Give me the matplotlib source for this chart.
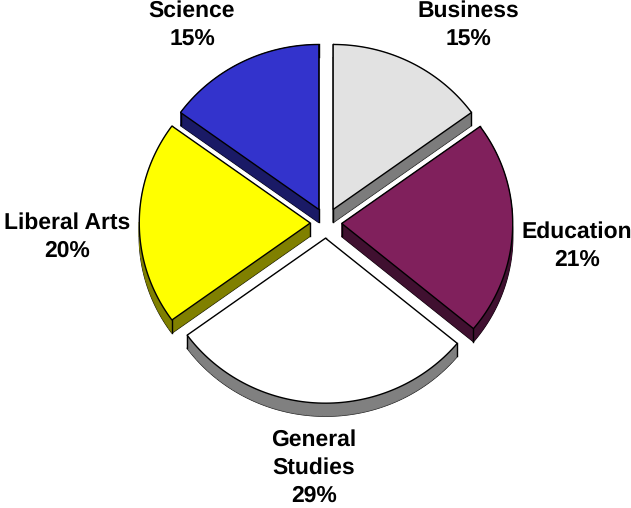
#!/usr/bin/env python3
"""Exploded pseudo-3D pie of enrollment share by college."""
import numpy as np
import matplotlib
matplotlib.use("Agg")
import matplotlib.pyplot as plt
from matplotlib.patches import Polygon

plt.rcParams["font.family"] = ["Liberation Sans", "DejaVu Sans"]
plt.rcParams["text.hinting"] = "no_hinting"

# clockwise from 12 o'clock
LABELS = ["Business", "Education", "General\nStudies", "Liberal Arts", "Science"]
VALUES = [15, 21, 29, 20, 15]
TOPS = ["#e2e2e2", "#80205c", "#ffffff", "#ffff00", "#3333cc"]
WALLS = ["#7c7c7c", "#401030", "#808080", "#808000", "#1a1a66"]
# label centres in pixels
LABEL_XY = [(468, 25), (577, 246), (314, 468), (67, 237), (192, 25)]

W, H = 631, 508
CX, CY = 326, 223      # pie centre
RX, RY = 171, 165      # tilted radii
EXPLODE = 0.092        # fraction of radius
DEPTH = 13

fig = plt.figure(figsize=(W / 100, H / 100), dpi=100)
ax = fig.add_axes([0, 0, 1, 1])
ax.set_xlim(0, W)
ax.set_ylim(H, 0)
ax.axis("off")

edges = np.cumsum([0] + VALUES) / sum(VALUES) * 2 * np.pi


def slice_outline(a0, a1):
    mid = (a0 + a1) / 2
    ox = CX + EXPLODE * RX * np.sin(mid)
    oy = CY - EXPLODE * RY * np.cos(mid)
    t = np.linspace(a0, a1, 80)
    xs = np.r_[ox, ox + RX * np.sin(t)]
    ys = np.r_[oy, oy - RY * np.cos(t)]
    return np.column_stack([xs, ys])


for i in range(len(VALUES)):
    pts = slice_outline(edges[i], edges[i + 1])
    low = pts + [0, DEPTH]
    # bottom face, then a wall quad for every outline segment
    ax.add_patch(Polygon(low, closed=True, fc=WALLS[i], ec="black", lw=1.0, zorder=2))
    n = len(pts)
    for k in range(n):
        j = (k + 1) % n
        quad = [pts[k], pts[j], low[j], low[k]]
        ax.add_patch(Polygon(quad, closed=True, fc=WALLS[i], ec=WALLS[i], lw=0.3, zorder=3))
    # vertical edges at the three corners, the top face hides the inner ones
    for k in (0, 1, n - 1):
        ax.plot([pts[k, 0], low[k, 0]], [pts[k, 1], low[k, 1]], color="black", lw=1.0, zorder=4)
    ax.add_patch(Polygon(pts, closed=True, fc=TOPS[i], ec="black", lw=1.0, zorder=5,
                         joinstyle="miter"))

for lab, val, (x, y) in zip(LABELS, VALUES, LABEL_XY):
    ax.text(x, y, f"{lab}\n{val}%", ha="center", va="center", fontsize=16.5,
            fontweight="bold", color="black", linespacing=1.4, zorder=6)

fig.savefig("out.png", dpi=100, facecolor="white")
